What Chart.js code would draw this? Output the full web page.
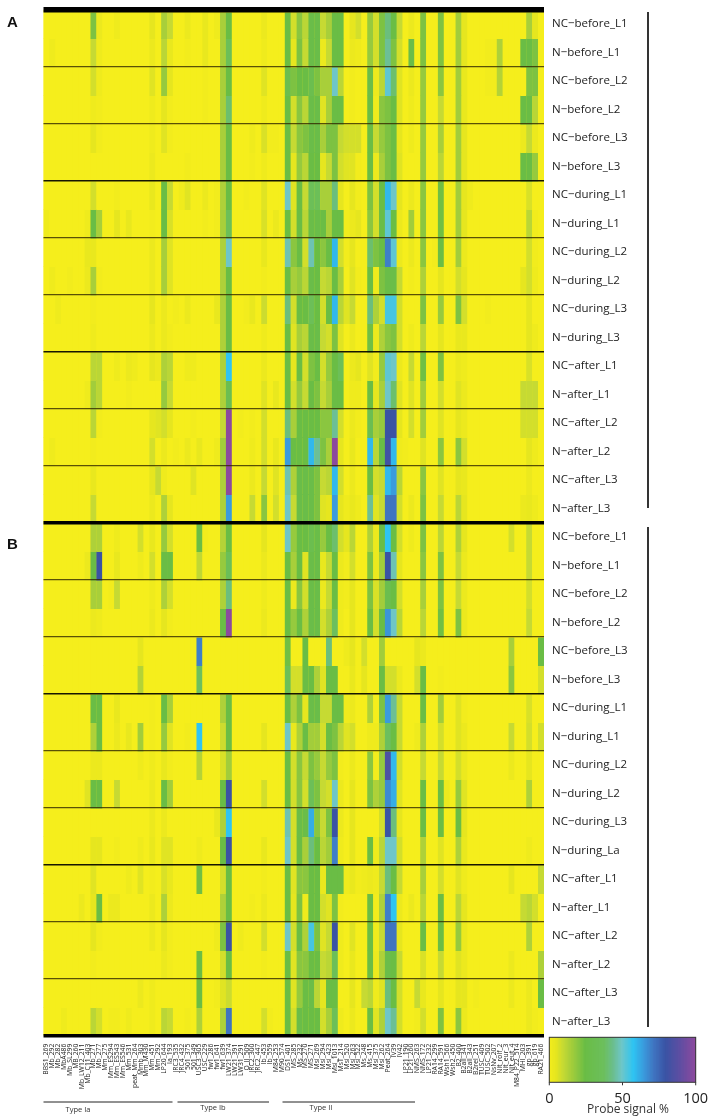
<!DOCTYPE html>
<html><head><meta charset="utf-8">
<style>html,body{margin:0;padding:0;background:#fff;width:709px;height:1120px;overflow:hidden}canvas{position:absolute;display:block}</style>
<script src="https://cdn.jsdelivr.net/npm/chart.js@4"></script></head>
<body><canvas id="heat" width="709" height="1120" style="left:0;top:0"></canvas><canvas id="bar" width="174" height="90" style="left:535px;top:1030px"></canvas>
<script>
const probes=["BBS1_269","Mb_292","Mb_282","MbA486","Mb_SL299","MB_260","Mb_LW12_211","Mb_C11_403","Mb_271","Mb_277","Mm_275","Mm_ES294","Mm_ES543","Mm_ES546","Mm_531","peat_Mm_264","Mmb_303","Mm_M430","Mm_451","Mm_292","LP20_644","Ia_193","JRC3_535","JRC4_432","501_375","501_349","USC3_305","USC_229","fw1_286","fw1_641","fw1_639","LW21_374","LW21_391","LW31_291","O_II_509","JRC2_300","JRC2_447","Ib_453","Ib_559","M84_253","M90_574","DS1_401","MS_285","Ms_232","MS_270","MS_271","Msi_269","Msi_294","Msi_423","Msi_1013","MsT_214","Msi_520","Msi_263","Msi_522","Ms_248","Ms_415","Msi_375","Msi_262","Peat_264","IV39","IV42","LP21_190","LP21_260","NMS_263","NMS_172","LP21_232","RA14_299","RA14_591","Wsh1_566","Wsh2_450","B2_400","B2all_341","B2all_343","B2rel_251","TUSC_409","TUSC_502","NsNv_207","Nit_rolf_2","Nit_eur_3","Nit_eut_4","M84_P22_514","MHI_203","gp_391","gp_619","RA21_466"];
const rowLabelsA=["NC−before_L1","N−before_L1","NC−before_L2","N−before_L2","NC−before_L3","N−before_L3","NC−during_L1","N−during_L1","NC−during_L2","N−during_L2","NC−during_L3","N−during_L3","NC−after_L1","N−after_L1","NC−after_L2","N−after_L2","NC−after_L3","N−after_L3"];
const rowLabelsB=["NC−before_L1","N−before_L1","NC−before_L2","N−before_L2","NC−before_L3","N−before_L3","NC−during_L1","N−during_L1","NC−during_L2","N−during_L2","NC−during_L3","N−during_La","NC−after_L1","N−after_L1","NC−after_L2","N−after_L2","NC−after_L3","N−after_L3"];
const A0=[0,0,0,0,0,0,0,0,22,3, 0,0,2,0,0,0,0,0,5,0, 15,10,0,0,3,0,0,4,0,2, 15,25,0,0,0,0,0,3,0,0, 0,25,8,20,12,27,27,10,15,25, 25,0,5,8,0,18,8,22,42,25, 10,0,3,0,22,0,0,22,0,0, 16,5,0,0,0,0,0,0,0,0, 0,0,15,5,0];
const A1=[0,2,0,0,0,0,0,0,10,2, 0,0,0,0,0,0,0,0,3,0, 12,4,0,0,1,0,0,4,0,0, 15,35,0,0,0,0,0,2,0,0, 0,25,5,22,10,27,27,3,10,25, 25,0,3,2,0,18,8,22,45,22, 8,0,27,0,22,0,0,22,0,0, 16,5,0,0,0,1,1,14,0,0, 0,25,25,22,0];
const A2=[0,0,0,0,0,0,0,0,8,2, 0,0,0,0,0,0,0,0,6,0, 18,5,0,0,0,0,0,1,0,0, 15,25,0,0,0,0,0,6,0,0, 0,30,22,25,25,30,22,15,15,50, 12,0,1,0,0,27,3,12,52,40, 6,0,3,0,18,0,0,20,0,0, 16,4,0,0,0,1,1,13,0,0, 0,0,22,22,0];
const A3=[0,0,0,0,0,0,0,0,2,1, 0,0,0,0,0,0,0,0,2,0, 5,1,0,0,0,0,0,1,0,0, 15,40,0,0,0,0,0,2,0,0, 0,25,8,20,12,27,27,6,15,25, 25,0,1,0,0,25,2,20,22,25, 6,0,2,0,18,0,0,10,0,0, 16,4,0,0,0,0,0,0,0,0, 0,25,25,12,0];
const A4=[0,0,0,0,0,0,0,0,5,1, 0,0,0,0,0,0,0,0,2,0, 6,1,0,0,0,0,0,0,0,0, 15,25,0,0,0,2,0,7,1,1, 0,25,10,20,22,27,27,15,22,22, 10,8,8,8,0,25,10,18,22,25, 5,0,2,0,18,0,0,15,0,0, 16,5,0,0,0,0,0,0,0,0, 0,3,10,3,0];
const A5=[0,0,0,0,0,0,0,0,0,0, 0,0,0,0,0,0,0,0,3,0, 0,0,0,0,1,0,0,0,0,0, 15,25,0,0,0,1,0,2,0,0, 0,25,5,18,12,25,25,5,10,22, 8,6,6,1,0,25,3,15,22,25, 6,0,0,0,18,0,0,12,0,0, 16,5,0,0,0,0,0,0,0,0, 0,25,25,18,0];
const A6=[0,0,0,0,0,0,0,0,8,0, 0,0,1,0,0,0,0,0,4,0, 25,10,0,2,6,0,0,3,0,1, 14,25,0,0,1,0,0,6,0,0, 0,50,6,25,10,35,35,15,15,42, 5,0,5,1,0,22,8,25,60,50, 5,0,3,0,20,0,0,24,0,0, 16,5,2,0,0,0,0,0,0,0, 0,0,7,0,0];
const A7=[2,0,0,0,0,0,0,2,25,15, 0,0,5,0,4,0,0,0,1,0, 25,7,0,0,0,0,0,1,0,1, 15,35,0,0,0,0,0,7,0,3, 0,25,8,25,12,27,27,25,15,25, 25,1,3,5,0,20,8,25,52,25, 3,0,16,0,20,0,0,24,0,0, 16,5,0,0,0,0,0,0,0,0, 0,0,12,1,0];
const A8=[0,0,0,0,0,0,0,4,4,0, 0,0,0,0,0,0,0,0,3,0, 15,6,0,0,0,0,0,0,0,0, 14,50,0,0,0,0,0,4,0,0, 0,48,20,25,8,48,25,20,25,60, 8,1,5,0,0,40,22,25,70,52, 3,0,3,0,20,0,1,25,0,0, 16,3,0,0,0,0,0,0,0,0, 0,0,8,1,0];
const A9=[0,2,0,0,1,0,0,3,15,1, 0,0,0,0,0,0,0,0,3,0, 15,6,0,0,0,0,0,0,0,0, 14,25,0,0,0,0,0,1,0,0, 0,25,15,18,12,27,25,10,12,25, 15,0,6,1,0,25,2,22,27,27, 10,0,1,0,14,0,0,5,0,0, 8,5,0,0,0,0,0,0,0,0, 0,5,8,2,0];
const A10=[0,0,2,0,0,0,0,0,1,0, 0,0,0,0,0,0,0,0,5,0, 3,0,1,0,3,0,0,0,0,4, 14,25,0,0,1,4,0,9,0,0, 0,42,8,25,25,35,25,8,25,60, 12,6,10,0,0,42,14,8,55,55, 8,0,0,0,22,0,0,18,0,0, 22,8,0,0,0,1,0,0,0,0, 0,0,5,0,0];
const A11=[0,0,0,0,0,0,0,0,2,0, 0,0,0,0,0,0,0,0,3,0, 3,1,0,0,0,0,0,0,0,0, 14,25,0,0,0,0,0,2,0,0, 0,25,6,15,12,27,27,10,8,22, 6,0,3,0,0,24,3,14,20,22, 8,0,2,0,12,0,0,5,0,0, 4,4,0,0,0,0,0,0,0,0, 0,0,5,2,0];
const A12=[0,0,0,0,0,0,0,0,12,12, 0,0,2,0,3,2,0,0,5,3, 14,12,0,0,2,2,0,0,0,0, 14,58,0,0,0,0,0,3,0,0, 0,25,5,25,8,22,25,8,18,25, 35,0,3,5,0,6,1,18,52,50, 3,0,10,0,24,0,0,22,0,0, 3,2,0,0,0,0,0,0,0,0, 0,0,7,0,0];
const A13=[0,0,0,0,0,0,0,2,16,12, 0,0,0,0,1,0,0,0,0,0, 18,10,0,0,0,0,0,0,0,0, 14,32,0,0,0,0,0,6,0,4, 0,25,8,18,10,25,22,10,15,25, 25,0,2,2,0,25,5,15,50,40, 6,0,6,0,16,0,0,8,0,0, 6,3,0,0,0,0,0,0,0,0, 0,10,10,10,0];
const A14=[0,0,0,0,0,0,0,0,12,1, 0,0,0,0,0,0,0,0,5,6, 8,5,0,0,0,1,0,0,0,0, 10,100,0,1,0,1,0,8,0,0, 0,42,15,25,25,25,25,20,20,45, 8,0,3,1,0,32,15,18,80,80, 5,0,8,0,16,0,0,6,0,0, 5,3,0,0,0,0,0,0,0,0, 0,8,8,8,0];
const A15=[0,2,0,0,0,0,0,0,1,0, 0,0,0,0,0,0,0,0,8,0, 3,0,1,0,3,0,4,0,0,2, 16,100,0,0,0,2,0,8,0,4, 0,65,25,25,25,60,45,22,15,100, 5,0,4,0,0,60,12,25,82,60, 2,1,0,0,6,0,0,20,0,0, 20,8,0,0,0,0,0,0,0,0, 0,0,5,2,0];
const A16=[0,0,0,0,0,0,0,0,4,0, 0,0,0,0,0,0,0,0,5,10, 2,0,0,0,0,6,0,0,0,0, 14,100,0,0,0,3,0,10,0,6, 0,48,14,27,27,27,22,10,12,60, 8,0,3,0,0,25,8,10,60,65, 12,0,0,0,20,0,0,6,0,0, 5,4,0,0,0,0,0,0,0,0, 0,0,3,0,0];
const A17=[0,0,0,0,0,0,0,0,10,0, 0,0,0,0,0,0,0,0,3,0, 14,5,0,0,0,0,0,0,0,0, 14,65,0,0,0,10,0,20,0,8, 0,50,10,27,27,27,22,6,5,65, 5,2,4,2,0,45,6,10,72,72, 8,0,3,0,22,0,0,10,0,0, 12,5,0,0,0,0,0,0,0,0, 0,3,4,2,0];
const B0=[0,0,0,0,0,0,0,0,14,14, 0,0,2,0,0,0,8,0,4,0, 18,8,0,0,0,0,25,1,0,0, 13,25,0,0,0,0,0,5,0,0, 0,50,18,25,25,30,27,18,25,40, 8,5,12,0,0,14,3,25,58,25, 8,0,2,0,22,0,0,12,0,0, 14,5,0,0,0,0,0,0,0,8, 0,0,10,0,0];
const B1=[0,0,0,0,0,0,0,3,25,80, 0,0,4,0,0,0,2,0,8,0, 25,25,0,0,0,0,11,0,0,0, 18,35,0,0,0,0,0,3,0,0, 0,25,15,25,6,27,27,4,10,25, 3,1,8,0,0,22,3,16,80,48, 5,0,0,0,20,0,0,22,0,0, 10,3,0,0,0,0,0,0,0,0, 0,0,10,0,0];
const B2=[0,0,0,0,0,0,0,0,15,15, 0,1,10,0,0,0,0,0,2,0, 14,8,0,0,0,0,0,0,0,0, 14,42,0,0,0,0,0,2,0,0, 0,25,3,20,8,27,27,3,10,25, 2,1,5,0,0,22,7,16,30,25, 8,0,0,0,15,0,0,22,0,0, 10,3,0,0,0,0,0,0,0,0, 0,0,8,0,0];
const B3=[0,0,0,0,0,0,0,0,3,2, 0,0,0,0,0,0,0,0,3,0, 5,1,0,0,0,0,0,0,0,0, 25,100,0,0,0,0,0,3,0,0, 0,25,18,25,14,27,27,8,14,38, 2,0,5,0,0,25,8,25,66,50, 12,0,0,0,12,0,0,24,0,0, 22,3,0,0,0,0,0,0,0,0, 0,0,10,0,0];
const B4=[0,0,0,0,0,0,0,0,0,0, 0,0,0,0,0,0,5,0,0,0, 0,0,0,0,0,0,70,0,0,0, 0,0,0,0,0,0,0,0,0,0, 0,24,0,0,25,0,0,0,42,0, 0,2,5,0,8,0,0,16,0,0, 0,0,0,5,3,0,0,0,0,0, 0,0,0,0,0,0,0,0,0,15, 0,0,0,0,25];
const B5=[0,0,0,0,0,0,0,0,0,0, 0,0,0,0,0,0,13,0,0,0, 0,0,0,0,0,0,38,0,0,0, 0,0,0,0,0,0,0,0,0,0, 0,35,8,8,25,25,14,6,25,25, 0,0,4,0,5,0,0,25,8,8, 3,0,0,8,25,0,0,1,0,0, 0,0,0,0,0,0,0,0,0,20, 0,0,0,0,8];
const B6=[0,0,0,0,0,0,0,0,25,25, 0,0,4,0,0,0,0,0,1,0, 25,15,0,0,0,0,0,0,0,0, 14,25,0,0,0,0,0,0,0,0, 0,25,14,22,5,27,27,10,10,25, 25,2,3,0,0,14,0,22,65,45, 10,0,0,0,25,0,0,16,0,0, 6,1,0,0,0,0,0,0,0,0, 0,0,7,0,0];
const B7=[0,0,0,0,0,0,0,0,14,25, 0,0,3,0,4,0,16,0,1,0, 18,6,0,0,1,0,58,0,0,0, 9,25,0,0,0,0,0,5,0,0, 0,50,4,14,25,16,16,8,25,22, 12,6,8,0,0,2,2,14,38,25, 10,0,0,2,14,0,0,8,0,0, 6,3,0,0,0,0,0,0,0,10, 0,0,8,0,8];
const B8=[0,0,0,0,0,0,0,0,3,3, 0,0,0,0,0,0,2,0,2,0, 4,1,0,0,0,0,13,0,0,0, 7,16,0,0,0,0,0,0,0,0, 0,25,8,20,10,22,18,10,18,22, 1,0,3,0,0,20,1,18,85,60, 8,0,0,0,10,0,0,10,0,0, 8,3,0,0,0,0,0,0,0,3, 0,0,5,0,0];
const B9=[0,0,0,0,0,0,0,6,25,25, 0,0,10,0,0,0,0,0,3,0, 25,16,0,0,0,0,0,0,0,0, 25,80,0,0,0,0,0,8,0,0, 0,25,8,20,8,35,22,10,8,50, 3,0,5,0,0,22,14,18,68,62, 6,0,0,0,25,0,0,25,3,0, 18,6,0,0,0,0,0,0,0,0, 0,0,14,0,0];
const B10=[0,0,0,0,0,0,0,0,0,0, 0,0,0,0,0,0,0,0,3,0, 3,0,0,0,0,0,0,0,0,4, 14,58,0,0,0,0,0,0,0,0, 0,48,8,27,27,62,20,10,22,80, 3,0,5,0,0,0,0,8,80,42, 5,0,0,0,25,0,0,25,0,0, 25,5,0,0,0,0,0,0,0,0, 0,0,0,0,0];
const B11=[0,0,0,0,0,0,0,0,5,5, 0,0,1,0,0,0,2,0,4,0, 6,6,0,0,0,0,2,0,0,0, 25,80,0,0,0,0,0,4,0,0, 0,50,8,25,15,42,25,12,16,70, 2,0,5,0,0,25,2,12,50,50, 8,0,0,0,14,0,0,6,0,0, 14,4,0,0,0,0,0,0,0,0, 0,0,2,0,0];
const B12=[0,0,0,0,0,0,0,0,6,0, 0,0,0,0,2,0,6,0,1,0, 7,4,0,0,0,0,24,0,0,0, 8,25,0,0,0,0,0,1,0,0, 0,25,6,20,20,25,25,4,25,25, 25,2,4,1,2,3,2,10,42,25, 10,0,0,0,15,0,0,8,0,0, 6,2,0,0,0,0,0,0,0,5, 0,0,0,0,10];
const B13=[0,0,0,0,0,0,3,0,5,25, 0,3,3,0,0,0,0,0,3,0, 14,3,0,0,0,0,0,0,0,0, 14,25,0,0,0,1,0,3,0,0, 0,25,5,22,2,25,25,8,6,22, 1,0,0,0,0,25,1,14,70,58, 3,0,3,0,12,0,0,25,0,0, 12,5,0,0,0,0,0,0,0,0, 0,10,12,8,0];
const B14=[0,0,0,0,0,0,0,0,5,1, 0,0,0,0,0,0,0,0,3,0, 5,1,0,0,0,0,0,0,0,2, 22,80,0,2,0,0,0,8,0,0, 0,50,8,25,14,55,22,6,10,80, 2,0,6,0,0,25,2,10,72,72, 5,0,0,0,25,0,0,25,0,0, 18,3,0,0,0,0,0,0,0,0, 0,0,14,0,0];
const B15=[0,0,0,0,0,0,0,0,1,0, 0,0,0,0,0,0,0,0,0,0, 3,1,0,0,0,0,25,0,0,0, 8,25,0,0,0,0,0,1,0,0, 0,25,6,20,20,25,25,10,12,35, 2,0,4,0,0,25,3,14,28,25, 10,0,0,0,7,0,0,10,0,0, 6,3,0,0,0,0,0,0,0,3, 0,0,0,0,14];
const B16=[0,0,0,0,0,0,0,0,0,0, 0,0,0,0,0,0,3,0,2,0, 0,0,0,0,0,0,25,0,0,1, 6,9,0,0,0,0,0,0,0,0, 0,25,6,18,25,27,12,5,25,25, 0,0,5,0,10,12,2,6,42,25, 8,0,0,10,4,0,0,5,0,0, 5,5,0,1,0,0,0,0,0,3, 0,0,3,0,25];
const B17=[0,0,0,2,0,0,0,0,12,8, 0,1,1,0,2,0,0,0,2,0, 12,10,0,0,1,0,14,0,0,0, 14,72,0,0,0,0,0,8,1,0, 0,25,8,27,25,25,25,8,15,35, 2,0,3,0,0,25,6,14,50,45, 8,0,0,1,8,0,0,22,0,0, 20,3,0,0,0,0,0,0,0,0, 0,0,3,1,0];
const legendTicks=[0,50,100];

const rows=[A0,A1,A2,A3,A4,A5,A6,A7,A8,A9,A10,A11,A12,A13,A14,A15,A16,A17,B0,B1,B2,B3,B4,B5,B6,B7,B8,B9,B10,B11,B12,B13,B14,B15,B16,B17];
const rowLabels=rowLabelsA.concat(rowLabelsB);
const stops=[[0,[245,238,28]],[5,[230,230,31]],[10,[198,218,51]],[15,[168,207,58]],[20,[138,198,64]],[25,[106,189,69]],[38,[108,191,94]],[44,[107,190,140]],[50,[110,198,200]],[58,[46,196,242]],[65,[58,155,221]],[72,[63,116,192]],[80,[58,83,164]],[90,[95,78,162]],[100,[139,74,158]]];
function color(v){
  for(let i=1;i<stops.length;i++){
    if(v<=stops[i][0]){
      const a=stops[i-1],b=stops[i],t=(v-a[0])/(b[0]-a[0]);
      return 'rgb('+a[1].map((c,j)=>Math.round(c+(b[1][j]-c)*t)).join(',')+')';
    }
  }
  return 'rgb(139,74,158)';
}
const FONT='"Open Sans"';
const lineStyle=r=>{
  if(r===0) return {w:5.5,c:'#000'};
  if(r===18) return {w:3.6,c:'#000'};
  if(r===36) return {w:3.6,c:'#000'};
  if(r%6===0) return {w:1.6,c:'rgba(10,10,0,.95)'};
  if(r%2===0) return {w:1.2,c:'rgba(50,40,0,.8)'};
  return {w:0,c:'rgba(0,0,0,0)'};
};
const decor={id:'decor',
  beforeDatasetsDraw(c){const a=c.chartArea,x=c.ctx;x.save();x.fillStyle='rgb(245,238,28)';x.fillRect(a.left,a.top,a.right-a.left,a.bottom-a.top);x.restore();},
  afterDraw(c){const x=c.ctx;x.save();
    x.fillStyle='#111';x.strokeStyle='#000';
    x.font='bold 15px "Liberation Sans"';x.textBaseline='alphabetic';x.textAlign='left';
    x.fillText('A',7,27);x.fillText('B',7,549);
    x.lineWidth=1.6;
    [[12,508],[527,1027]].forEach(s=>{x.beginPath();x.moveTo(648,s[0]);x.lineTo(648,s[1]);x.stroke();});
    x.lineWidth=1;x.strokeStyle='#222';
    [[43.5,172.5],[177.5,269],[282.5,415]].forEach(s=>{x.beginPath();x.moveTo(s[0],1102);x.lineTo(s[1],1102);x.stroke();});
    x.font='7.5px '+FONT;x.fillStyle='#333';x.textAlign='center';
    x.fillText('Type Ia',78,1112);x.fillText('Type Ib',213,1110);x.fillText('Type II',321,1110);
    x.restore();}
};
new Chart(document.getElementById('heat'),{
  type:'bar',
  data:{labels:probes,datasets:rows.map((vals,r)=>({
    label:rowLabels[r],
    data:vals.map(()=>[r,r+1.03]),
    backgroundColor:vals.map(color),
    borderWidth:0,barPercentage:1.04,categoryPercentage:1,grouped:false
  }))},
  options:{responsive:false,animation:false,devicePixelRatio:1,
    layout:{padding:{left:43.5,right:0,top:9.7,bottom:0}},
    plugins:{legend:{display:false},tooltip:{enabled:false},title:{display:false}},
    scales:{
      x:{type:'category',grid:{display:false},border:{display:false},
        afterFit(s){s.height=84.3;s.paddingLeft=0;s.paddingRight=0;},
        ticks:{autoSkip:false,minRotation:90,maxRotation:90,padding:0,color:'#222',font:{family:FONT,size:6.8}}},
      y:{type:'linear',position:'right',reverse:true,min:0,max:36,
        afterFit(s){s.width=165;s.paddingTop=0;s.paddingBottom=0;},
        afterBuildTicks(s){const t=[];for(let i=0;i<=72;i++)t.push({value:i/2});s.ticks=t;},
        border:{display:false},
        grid:{z:1,drawTicks:false,
          lineWidth:ctx=>{const v=ctx.tick?ctx.tick.value:.5;return Number.isInteger(v)?lineStyle(v).w:0;},
          color:ctx=>{const v=ctx.tick?ctx.tick.value:.5;return Number.isInteger(v)?lineStyle(v).c:'rgba(0,0,0,0)';}},
        ticks:{autoSkip:false,padding:8,color:'#222',font:{family:FONT,size:11.5},
          callback(v){return Number.isInteger(v)?'':rowLabels[Math.floor(v)];}}}
    }
  },
  plugins:[decor]
});
const ramp=[];for(let i=0;i<=100;i++)ramp.push(i);
new Chart(document.getElementById('bar'),{
  type:'bar',
  data:{datasets:[{data:ramp.map(v=>({x:v,y:1})),backgroundColor:ramp.map(color),borderWidth:0,barPercentage:2.2,categoryPercentage:1}]},
  options:{responsive:false,animation:false,devicePixelRatio:1,
    layout:{padding:{left:14.3,right:13.3,top:7.3,bottom:0}},
    plugins:{legend:{display:false},tooltip:{enabled:false}},
    scales:{
      x:{type:'linear',offset:false,min:0,max:100,grid:{display:false},border:{display:false},
        afterFit(s){s.height=37.7;s.paddingLeft=0;s.paddingRight=0;},
        afterBuildTicks(s){s.ticks=legendTicks.map(v=>({value:v}));},
        ticks:{padding:0,color:'#222',maxRotation:0,font:{family:FONT,size:14.5}}},
      y:{min:0,max:1,display:false}
    }
  },
  plugins:[{id:'frame',afterDraw(c){const a=c.chartArea,x=c.ctx;x.save();x.strokeStyle='#333';x.lineWidth=1;x.strokeRect(a.left,a.top,a.right-a.left,a.bottom-a.top);
    x.beginPath();legendTicks.forEach(v=>{const p=c.scales.x.getPixelForValue(v);x.moveTo(p,a.bottom);x.lineTo(p,a.bottom+3);});x.stroke();
    x.fillStyle='#333';x.font='12px '+FONT;x.textAlign='center';x.textBaseline='alphabetic';x.fillText('Probe signal %',93,83);x.restore();}}]
});
</script></body></html>
